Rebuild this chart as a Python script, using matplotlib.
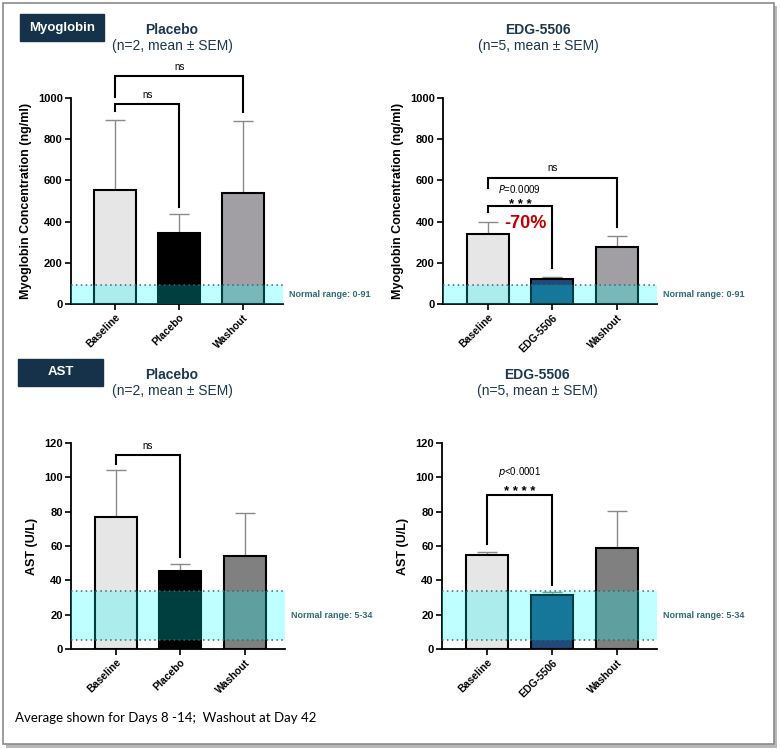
import numpy as np
import matplotlib.pyplot as plt
from matplotlib.patches import Rectangle

# ---- data ----
groups_pl = ["Baseline", "Placebo", "Washout"]
groups_edg = ["Baseline", "EDG-5506", "Washout"]

myo_pl_mean = [555, 345, 537]
myo_pl_top = [893, 435, 890]      # mean + SEM
myo_edg_mean = [340, 120, 275]
myo_edg_top = [398, 132, 330]

ast_pl_mean = [77, 45.5, 54]
ast_pl_top = [104, 49.5, 79.5]
ast_edg_mean = [54.5, 31.5, 59]
ast_edg_top = [56.5, 33, 80.5]

myo_range = (0, 91)
ast_range = (5, 34)

W, H = 780, 750
NAVY = "#16324a"
TITLE_C = "#1c3850"
TEAL_TXT = "#2e6b74"

plt.rcParams['font.family'] = ['Liberation Sans', 'DejaVu Sans']

fig = plt.figure(figsize=(W / 100, H / 100), dpi=100)


def px_axes(x0, x1, ytop, ybot):
    return fig.add_axes([x0 / W, 1 - ybot / H, (x1 - x0) / W, (ybot - ytop) / H])


def bar_panel(ax, labels, means, tops, colors, ymax, ystep, ylabel, nrange, dotted):
    x = np.arange(len(labels))
    ax.bar(x, means, width=0.65, color=colors, edgecolor="black", linewidth=1.5, zorder=2)
    err = np.array(tops) - np.array(means)
    ax.errorbar(x, means, yerr=[np.zeros(len(x)), err], fmt="none", ecolor="#8a8a8a",
                elinewidth=1, capsize=7, capthick=1, zorder=1)
    ax.axhspan(nrange[0], nrange[1], color="#00ffff", alpha=0.25, lw=0, zorder=3)
    for yv in dotted:
        ax.axhline(yv, color="#2e6b74", lw=1.1, ls=(0, (1, 2.2)), zorder=4)
    ax.set_xlim(-0.69, 2.62)
    ax.set_ylim(0, ymax)
    ax.set_yticks(np.arange(0, ymax + 1, ystep))
    ax.set_xticks(x)
    ax.set_xticklabels(labels, rotation=45, ha="right", rotation_mode="anchor",
                       fontsize=7.5, fontweight="bold")
    for t in ax.get_yticklabels():
        t.set_fontweight("bold")
        t.set_fontsize(8)
    ax.tick_params(direction="out", length=4, width=1.2, pad=2)
    for s in ["top", "right"]:
        ax.spines[s].set_visible(False)
    for s in ["left", "bottom"]:
        ax.spines[s].set_linewidth(1.3)
    ax.set_ylabel(ylabel, fontsize=9, fontweight="bold", labelpad=4)
    ax.text(2.72, (nrange[0] + nrange[1]) / 2, "Normal range: %d-%d" % nrange,
            fontsize=6.5, fontweight="bold", color=TEAL_TXT, va="center", ha="left",
            clip_on=False)


def bracket(ax, x0, x1, y, yl, yr, lw=1.5):
    ax.plot([x0, x0, x1, x1], [yl, y, y, yr], color="black", lw=lw,
            clip_on=False, zorder=5, solid_joinstyle="miter")


pl_colors = ["#e6e6e6", "#000000", "#a19fa3"]
edg_colors = ["#e6e6e6", "#1f4a7a", "#a19fa3"]
pl_colors_ast = ["#e6e6e6", "#000000", "#808080"]
edg_colors_ast = ["#e6e6e6", "#1f4a7a", "#808080"]

# top left: myoglobin placebo
ax1 = px_axes(71, 283, 98, 304)
bar_panel(ax1, groups_pl, myo_pl_mean, myo_pl_top, pl_colors, 1000, 200,
          "Myoglobin Concentration (ng/ml)", myo_range, [91])
bracket(ax1, 0, 1, 969, 937, 472)
ax1.text(0.5, 1015, "ns", ha="center", va="center", fontsize=7, clip_on=False)
bracket(ax1, 0, 2, 1107, 1005, 933)
ax1.text(1.0, 1150, "ns", ha="center", va="center", fontsize=7, clip_on=False)

# top right: myoglobin EDG-5506
ax2 = px_axes(443, 657, 98, 304)
bar_panel(ax2, groups_edg, myo_edg_mean, myo_edg_top, edg_colors, 1000, 200,
          "Myoglobin Concentration (ng/ml)", myo_range, [91])
bracket(ax2, 0, 2, 612, 563, 374)
ax2.text(1.0, 660, "ns", ha="center", va="center", fontsize=7)
bracket(ax2, 0, 1, 476, 447, 175)
ax2.text(0.5, 468, "* * *", ha="center", va="baseline", fontsize=9.5, fontweight="bold")
ax2.text(0.5, 558, "$\\mathit{P}$=0.0009", ha="center", va="center", fontsize=7)
ax2.text(0.58, 393, "-70%", ha="center", va="center", fontsize=13,
         fontweight="bold", color="#c00000", zorder=6)

# bottom left: AST placebo
ax3 = px_axes(71, 285, 443, 649)
bar_panel(ax3, groups_pl, ast_pl_mean, ast_pl_top, pl_colors_ast, 120, 20,
          "AST (U/L)", ast_range, [5, 34])
bracket(ax3, 0, 1, 113, 108, 53.5)
ax3.text(0.5, 118, "ns", ha="center", va="center", fontsize=7, clip_on=False)

# bottom right: AST EDG-5506
ax4 = px_axes(442, 657, 443, 649)
bar_panel(ax4, groups_edg, ast_edg_mean, ast_edg_top, edg_colors_ast, 120, 20,
          "AST (U/L)", ast_range, [5, 34])
bracket(ax4, 0, 1, 89.7, 61, 37)
ax4.text(0.5, 89.5, "* * * *", ha="center", va="baseline", fontsize=9.5, fontweight="bold")
ax4.text(0.5, 103, "$\\mathit{p}$<0.0001", ha="center", va="center", fontsize=7)

# titles
for cx, cy, name, n in [(172, 30, "Placebo", 2), (538, 30, "EDG-5506", 5),
                        (172, 375, "Placebo", 2), (537, 375, "EDG-5506", 5)]:
    fig.text(cx / W, 1 - cy / H, name, ha="center", va="center", fontsize=10,
             fontweight="bold", color=TITLE_C)
    fig.text(cx / W, 1 - (cy + 16) / H, "(n=%d, mean \u00b1 SEM)" % n, ha="center",
             va="center", fontsize=10, color=TITLE_C)

# section label boxes
for x0, y0, x1, y1, lab in [(20, 14, 104, 41, "Myoglobin"), (18, 359, 103, 386, "AST")]:
    fig.patches.append(Rectangle((x0 / W, 1 - y1 / H), (x1 - x0) / W, (y1 - y0) / H,
                                 transform=fig.transFigure, color=NAVY, zorder=1))
    fig.text((x0 + x1) / 2 / W, 1 - (y0 + y1) / 2 / H, lab, ha="center", va="center",
             fontsize=9.5, fontweight="bold", color="white", zorder=2)

# footnote
fig.text(15 / W, 1 - 718 / H, "Average shown for Days 8 -14;  Washout at Day 42",
         ha="left", va="center", fontsize=9.5, family=["Lato", "DejaVu Sans"])

# outer frame with shadow
fig.patches.append(Rectangle((6 / W, 1 - 748 / H), 771 / W, 742 / H,
                             transform=fig.transFigure, fc="#b8b8b8", ec="none", zorder=-3))
fig.patches.append(Rectangle((3 / W, 1 - 744 / H), 771 / W, 741 / H,
                             transform=fig.transFigure, fc="white", ec="#8a8a8a",
                             lw=1.2, zorder=-2))

fig.savefig("out.png", dpi=100)
